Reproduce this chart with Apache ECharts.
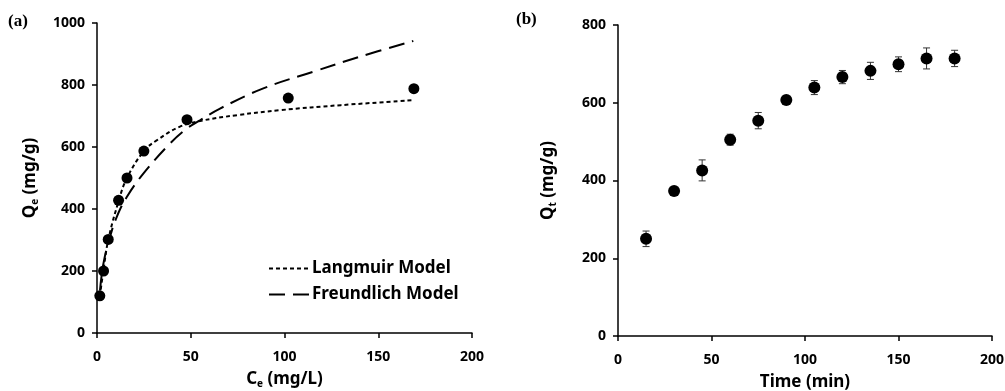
<!DOCTYPE html>
<html>
<head>
<meta charset="utf-8">
<script src="https://cdn.jsdelivr.net/npm/echarts@6/dist/echarts.min.js"></script>
<style>
  html, body { margin: 0; padding: 0; background: #fff; }
  #chart { width: 1005px; height: 391px; }
</style>
</head>
<body>
<div id="chart"></div>
<script>
// (a) isotherm
var isoCe = [1.5, 3.5, 6, 11.5, 16, 25, 48, 102, 169]
var isoQe = [120, 200, 302, 428, 500, 587, 688, 758, 788]
var langCe = [1.5, 3.5, 6, 11.5, 16, 25, 32, 44, 55, 75, 98, 130, 169]
var langQe = [118, 205, 300, 425, 500, 587, 622, 665, 684, 703, 719, 735, 751]
var freuCe = [1.6, 3.4, 6.9, 10.5, 15.8, 24.7, 38.9, 48, 54.9, 65.6, 88.7, 115.4, 140, 168.7]
var freuQe = [137, 223, 309, 374, 438, 514, 611, 660, 686, 724, 789, 843, 891, 942]

// (b) kinetics
var kinT = [15, 30, 45, 60, 75, 90, 105, 120, 135, 150, 165, 180]
var kinQ = [250, 373, 426, 505, 554, 607, 639, 666, 682, 699, 714, 714]
var kinErr = [20, 8, 27, 14, 21, 8, 18, 17, 22, 19, 27, 21]

function pairs(xs, ys, extra) {
  return xs.map(function(x, i) {
    return extra ? [x, ys[i], extra[i]] : [x, ys[i]]
  })
}

var FONT = 'Noto Sans'
var tickLabel = {
  color: '#000', fontFamily: FONT, fontWeight: 'bold', fontSize: 14,
  formatter: function(v) { return String(v) }
}
var axisLine = { show: true, lineStyle: { color: '#000', width: 1.5 } }
var axisTick = { show: true, length: 5, lineStyle: { color: '#000', width: 1.5 } }
var nameRich = {
  m: { fontFamily: FONT, fontWeight: 'bold', fontSize: 17, color: '#000' },
  s: { fontFamily: FONT, fontWeight: 'bold', fontSize: 10, color: '#000', verticalAlign: 'bottom', padding: [9, 0, 0, 0] }
}

var chart = echarts.init(document.getElementById('chart'))
chart.setOption({
  animation: false,
  backgroundColor: '#fff',
  graphic: [
    { type: 'text', left: 8, top: 13, style: { text: '(a)', font: 'bold 17px "Liberation Serif"', fill: '#000' } },
    { type: 'text', left: 516, top: 11, style: { text: '(b)', font: 'bold 17px "Liberation Serif"', fill: '#000' } }
  ],
  legend: {
    data: ['Langmuir Model', 'Freundlich Model'],
    orient: 'vertical',
    left: 263,
    top: 255,
    itemWidth: 40,
    itemHeight: 10,
    itemGap: 9,
    itemStyle: { opacity: 0 },
    textStyle: { fontFamily: FONT, fontSize: 17, fontWeight: 'bold', color: '#000', padding: [0, 0, 0, -2] }
  },
  grid: [
    { left: 97, top: 23, width: 375, height: 310, outerBoundsMode: 'none' },
    { left: 618, top: 25, width: 374, height: 311, outerBoundsMode: 'none' }
  ],
  xAxis: [
    {
      gridIndex: 0, type: 'value', min: 0, max: 200, interval: 50,
      name: '{m|C}{s|e}{m| (mg/L)}', nameLocation: 'middle', nameGap: 37, nameMoveOverlap: false,
      nameTextStyle: { rich: nameRich },
      axisLine: axisLine, axisTick: axisTick, splitLine: { show: false },
      axisLabel: Object.assign({ margin: 17 }, tickLabel)
    },
    {
      gridIndex: 1, type: 'value', min: 0, max: 200, interval: 50,
      name: 'Time (min)', nameLocation: 'middle', nameGap: 38, nameMoveOverlap: false,
      nameTextStyle: { fontFamily: FONT, fontWeight: 'bold', fontSize: 17, color: '#000' },
      axisLine: axisLine, axisTick: axisTick, splitLine: { show: false },
      axisLabel: Object.assign({ margin: 17 }, tickLabel)
    }
  ],
  yAxis: [
    {
      gridIndex: 0, type: 'value', min: 0, max: 1000, interval: 200,
      name: '{m|Q}{s|e}{m| (mg/g)}', nameLocation: 'middle', nameGap: 57, nameMoveOverlap: false,
      nameTextStyle: { rich: nameRich },
      axisLine: axisLine, axisTick: axisTick, splitLine: { show: false },
      axisLabel: Object.assign({ margin: 12 }, tickLabel)
    },
    {
      gridIndex: 1, type: 'value', min: 0, max: 800, interval: 200,
      name: '{m|Q}{s|t}{m| (mg/g)}', nameLocation: 'middle', nameGap: 60, nameMoveOverlap: false,
      nameTextStyle: { rich: nameRich },
      axisLine: axisLine, axisTick: axisTick, splitLine: { show: false },
      axisLabel: Object.assign({ margin: 12 }, tickLabel)
    }
  ],
  series: [
    {
      name: 'Langmuir Model', type: 'line', xAxisIndex: 0, yAxisIndex: 0,
      data: pairs(langCe, langQe), smooth: 0.4, symbol: 'none', z: 3,
      lineStyle: { color: '#000', width: 2, type: [4, 3] }
    },
    {
      name: 'Freundlich Model', type: 'line', xAxisIndex: 0, yAxisIndex: 0,
      data: pairs(freuCe, freuQe), smooth: 0.4, symbol: 'none', z: 3,
      lineStyle: { color: '#000', width: 2, type: [16, 8] }
    },
    {
      name: 'Experimental', type: 'scatter', xAxisIndex: 0, yAxisIndex: 0,
      data: pairs(isoCe, isoQe), symbol: 'circle', symbolSize: 11, z: 4,
      itemStyle: { color: '#000', opacity: 1 }
    },
    {
      name: 'Error', type: 'custom', xAxisIndex: 1, yAxisIndex: 1,
      data: pairs(kinT, kinQ, kinErr), z: 2,
      renderItem: function(params, api) {
        var x = api.value(0)
        var y = api.value(1)
        var e = api.value(2)
        var hi = api.coord([x, y + e])
        var lo = api.coord([x, y - e])
        var st = { stroke: '#333', lineWidth: 1 }
        return {
          type: 'group',
          children: [
            { type: 'line', shape: { x1: hi[0], y1: hi[1], x2: lo[0], y2: lo[1] }, style: st },
            { type: 'line', shape: { x1: hi[0] - 3.5, y1: hi[1], x2: hi[0] + 3.5, y2: hi[1] }, style: st },
            { type: 'line', shape: { x1: lo[0] - 3.5, y1: lo[1], x2: lo[0] + 3.5, y2: lo[1] }, style: st }
          ]
        }
      }
    },
    {
      name: 'Kinetics', type: 'scatter', xAxisIndex: 1, yAxisIndex: 1,
      data: pairs(kinT, kinQ), symbol: 'circle', symbolSize: 12, z: 4,
      itemStyle: { color: '#000', opacity: 1 }
    }
  ]
})
</script>
</body>
</html>
